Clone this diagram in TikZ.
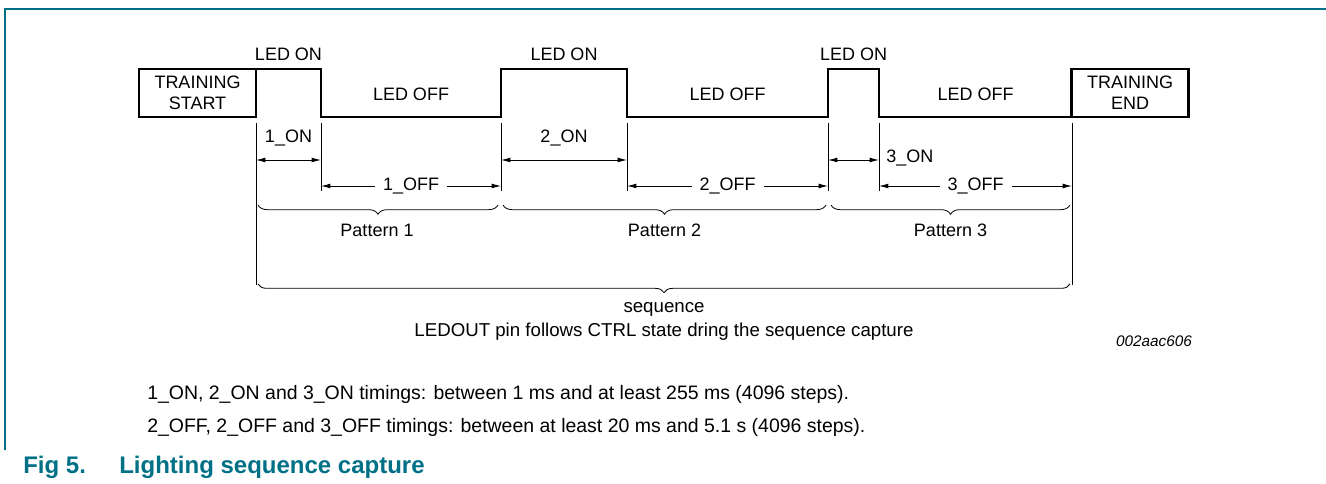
\documentclass[tikz,border=0pt]{standalone}
\usepackage{fontspec}
\setmainfont{Liberation Sans}
\usetikzlibrary{arrows.meta,decorations.pathreplacing}
\definecolor{nxpteal}{RGB}{0,112,134}
\begin{document}
\begin{tikzpicture}[x=0.75pt,y=-0.75pt,
  every node/.style={font=\fontsize{13.5}{16}\selectfont,inner sep=0pt},
  trainbox/.style={draw,line width=2.2pt,outer sep=0pt,align=center,minimum width=87.75pt,minimum height=36pt},
  wave/.style={line width=2.2pt,line join=miter},
  tickline/.style={line width=0.6pt},
  dimline/.style={line width=0.6pt,{Latex[length=7pt,width=3.6pt]}-{Latex[length=7pt,width=3.6pt]}},
  gap/.style={fill=white,inner xsep=6pt,inner ysep=1pt},
  grpbrace/.style={line width=0.6pt,decorate,decoration={brace,mirror,amplitude=#1}},
  notetext/.style={anchor=west,font=\fontsize{14.6}{17}\selectfont},
  figtitle/.style={anchor=west,font=\fontsize{18}{20}\selectfont\bfseries,text=nxpteal}]
\useasboundingbox (0,0) rectangle (1326,484);
\draw[nxpteal,line width=1pt] (5,450) -- (5,9) -- (1326,9);
\node[trainbox] (tstart) at (197.5,93) {TRAINING\\START};
\node[trainbox] (tend) at (1130,93) {TRAINING\\END};
\coordinate (e1) at (321,117);
\coordinate (e2) at (501,117);
\coordinate (e3) at (627,117);
\coordinate (e4) at (828,117);
\coordinate (e5) at (879,117);
\draw[wave] (tstart.north east) -- (e1 |- tstart.north) -- (e1) -- (e2) -- (e2 |- tstart.north)
  -- (e3 |- tstart.north) -- (e3) -- (e4) -- (e4 |- tstart.north) -- (e5 |- tstart.north)
  -- (e5) -- (tend.south west);
\node (on1) at (288.5,54) {LED ON};
\node (on2) at (564,54) {LED ON};
\node (on3) at (853.5,54) {LED ON};
\node (off1) at (411,94) {LED OFF};
\node (off2) at (727.5,94) {LED OFF};
\node (off3) at (975.5,94) {LED OFF};
\foreach \x in {321,501,627,828,879}
  \draw[tickline] (\x,123) -- (\x,191);
\foreach \x in {256,1072}
  \draw[tickline] (\x,123) -- (\x,285);
\draw[dimline] (256,160) -- node[above=10pt] (t1on) {1\_ON} (321,160);
\draw[dimline] (501,160) -- node[above=10pt] (t2on) {2\_ON} (627,160);
\draw[dimline] (828,160) -- (879,160);
\node[anchor=west] (t3on) at (886,158) {3\_ON};
\draw[dimline] (321,186) -- node[gap] (t1off) {1\_OFF} (501,186);
\draw[dimline] (627,186) -- node[gap] (t2off) {2\_OFF} (828,186);
\draw[dimline] (879,186) -- node[gap] (t3off) {3\_OFF} (1072,186);
\draw[grpbrace=7pt] (258,205) -- (498,205);
\draw[grpbrace=7pt] (503,205) -- (826,205);
\draw[grpbrace=7pt] (831,205) -- (1070,205);
\node (pat1) at (377,230) {Pattern 1};
\node (pat2) at (664.5,230) {Pattern 2};
\node (pat3) at (950.5,230) {Pattern 3};
\draw[grpbrace=6.5pt] (258,284) -- (1070,284);
\node[font=\fontsize{14}{16}\selectfont] (seq) at (664,309) {sequence};
\node[font=\fontsize{14}{16}\selectfont] (capt) at (664,332) {LEDOUT pin follows CTRL state dring the sequence capture};
\node[font=\fontsize{11.5}{13}\selectfont\itshape] (code) at (1154,341) {002aac606};
\node[notetext] (note1) at (147,394) {1\_ON, 2\_ON and 3\_ON timings: between 1 ms and at least 255 ms (4096 steps).};
\node[notetext] (note2) at (147,427) {2\_OFF, 2\_OFF and 3\_OFF timings: between at least 20 ms and 5.1 s (4096 steps).};
\node[figtitle] (fig) at (23,467) {Fig 5.};
\node[figtitle] (title) at (119,467) {Lighting sequence capture};
\end{tikzpicture}
\end{document}
